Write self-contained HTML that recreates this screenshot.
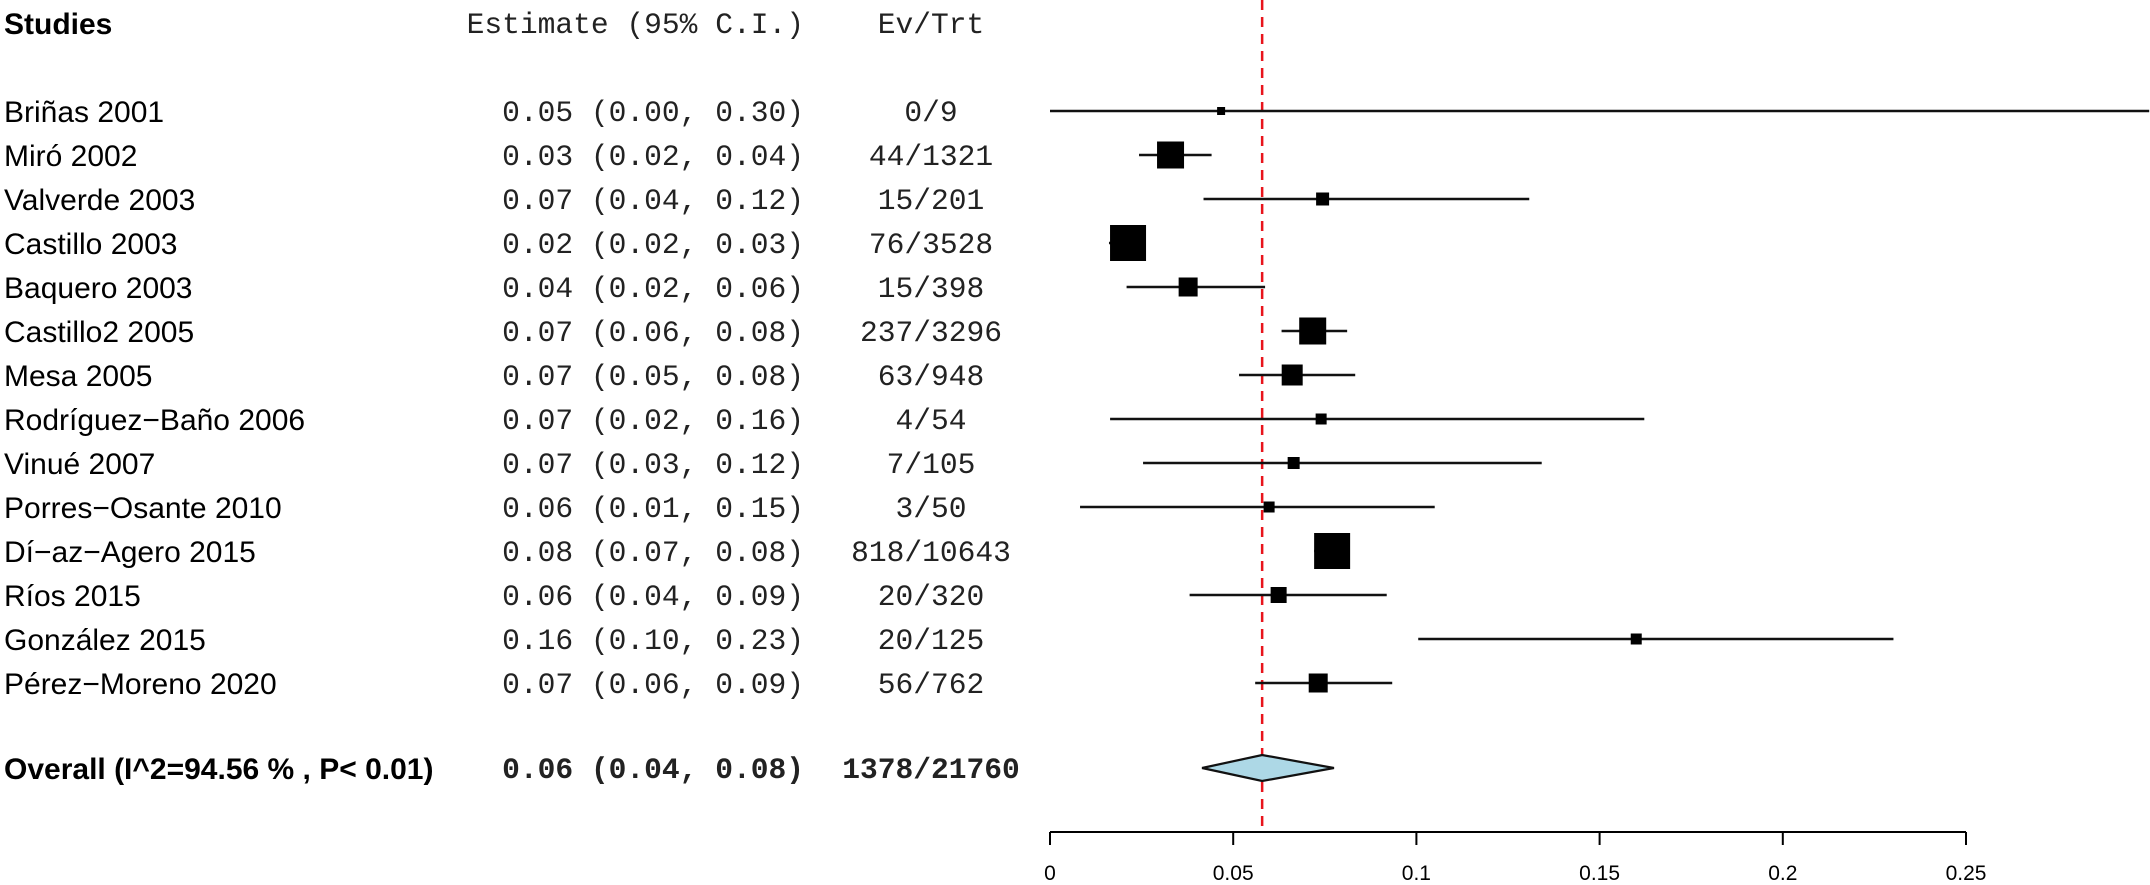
<!DOCTYPE html>
<html><head><meta charset="utf-8"><style>
html,body{margin:0;padding:0;background:#fff;width:2150px;height:885px;overflow:hidden}
svg{display:block}
.nm{font-family:"Liberation Sans",sans-serif;font-size:30px;fill:#000}
.mo{font-family:"Liberation Mono",monospace;font-size:29.6px;fill:#222}
.tk{font-family:"Liberation Sans",sans-serif;font-size:21px;fill:#000}
</style></head><body>
<svg id="plot" width="2150" height="885" xmlns="http://www.w3.org/2000/svg"></svg>
<script>
const studies=["Briñas 2001","Miró 2002","Valverde 2003","Castillo 2003","Baquero 2003","Castillo2 2005","Mesa 2005","Rodríguez−Baño 2006","Vinué 2007","Porres−Osante 2010","Dí−az−Agero 2015","Ríos 2015","González 2015","Pérez−Moreno 2020"];
const estText=["0.05 (0.00, 0.30)","0.03 (0.02, 0.04)","0.07 (0.04, 0.12)","0.02 (0.02, 0.03)","0.04 (0.02, 0.06)","0.07 (0.06, 0.08)","0.07 (0.05, 0.08)","0.07 (0.02, 0.16)","0.07 (0.03, 0.12)","0.06 (0.01, 0.15)","0.08 (0.07, 0.08)","0.06 (0.04, 0.09)","0.16 (0.10, 0.23)","0.07 (0.06, 0.09)"];
const evTrt=["0/9","44/1321","15/201","76/3528","15/398","237/3296","63/948","4/54","7/105","3/50","818/10643","20/320","20/125","56/762"];
const est=[0.0467,0.0329,0.0744,0.0213,0.0377,0.0717,0.0661,0.074,0.0665,0.0598,0.077,0.0624,0.16,0.0732];
const lo=[0,0.0243,0.0419,0.0161,0.0209,0.0632,0.0516,0.0164,0.0254,0.0082,0.0721,0.0381,0.1005,0.056];
const hi=[0.30,0.0441,0.1308,0.0262,0.0587,0.0811,0.0833,0.1622,0.1342,0.105,0.0818,0.0919,0.2302,0.0934];
const weight=[8,27,13,36,19,27,21,11,12,11,36,16,11,19];
const overall=[0.0415,0.0579,0.0775];
const ticks=[0,0.05,0.1,0.15,0.2,0.25];
const tickLabels=["0","0.05","0.1","0.15","0.2","0.25"];

const NS="http://www.w3.org/2000/svg";
const svg=document.getElementById('plot');
const X=v=>1050+v*3664;
const Y=i=>111+i*44;
function mk(tag,attrs,txt){const e=document.createElementNS(NS,tag);for(const k in attrs)e.setAttribute(k,attrs[k]);if(txt!==undefined)e.textContent=txt;svg.appendChild(e);return e;}

let e;
e=mk('text',{x:4,y:34,class:'nm','font-weight':'bold'},'Studies');


e=mk('text',{x:804,y:33,class:'mo','text-anchor':'end'},'Estimate (95% C.I.)');


e=mk('text',{x:931,y:33,class:'mo','text-anchor':'middle'},'Ev/Trt');



// red reference line
e=mk('line',{x1:X(overall[1]),x2:X(overall[1]),y1:0,y2:832,stroke:'#e8141c','stroke-width':2.5,'stroke-dasharray':'10 7'});



studies.forEach((s,i)=>{
  const y=Y(i);
  let t=mk('text',{x:4,y:y+11,class:'nm'},s);
  
  
  t=mk('text',{x:804,y:y+10,class:'mo','text-anchor':'end'},estText[i]);
  
  
  t=mk('text',{x:931,y:y+10,class:'mo','text-anchor':'middle'},evTrt[i]);
  
  
  const l=mk('line',{x1:X(lo[i]),x2:Math.min(X(hi[i]),2150),y1:y,y2:y,stroke:'#111','stroke-width':2.4});
  
  
  const w=weight[i];
  const b=mk('rect',{x:X(est[i])-w/2,y:y-w/2,width:w,height:w,fill:'#000'});
  
  
});

const yo=768;
e=mk('text',{x:4,y:yo+11,class:'nm','font-weight':'bold'},'Overall (I^2=94.56 % , P< 0.01)');


e=mk('text',{x:804,y:yo+10,class:'mo','text-anchor':'end','font-weight':'bold',fill:'#000'},'0.06 (0.04, 0.08)');


e=mk('text',{x:931,y:yo+10,class:'mo','text-anchor':'middle','font-weight':'bold',fill:'#000'},'1378/21760');


e=mk('polygon',{points:`${X(overall[0])},${yo} ${X(overall[1])},${yo-13} ${X(overall[2])},${yo} ${X(overall[1])},${yo+13}`,fill:'#add8e6',stroke:'#111','stroke-width':2.2});



// axis
e=mk('line',{x1:X(ticks[0]),x2:X(ticks[ticks.length-1]),y1:832,y2:832,stroke:'#000','stroke-width':2});


ticks.forEach((v,i)=>{
  const t=mk('line',{x1:X(v),x2:X(v),y1:832,y2:845,stroke:'#000','stroke-width':2});
  
  
  const lb=mk('text',{x:X(v),y:880,class:'tk','text-anchor':'middle'},tickLabels[i]);
  
  
});
</script>
</body></html>
